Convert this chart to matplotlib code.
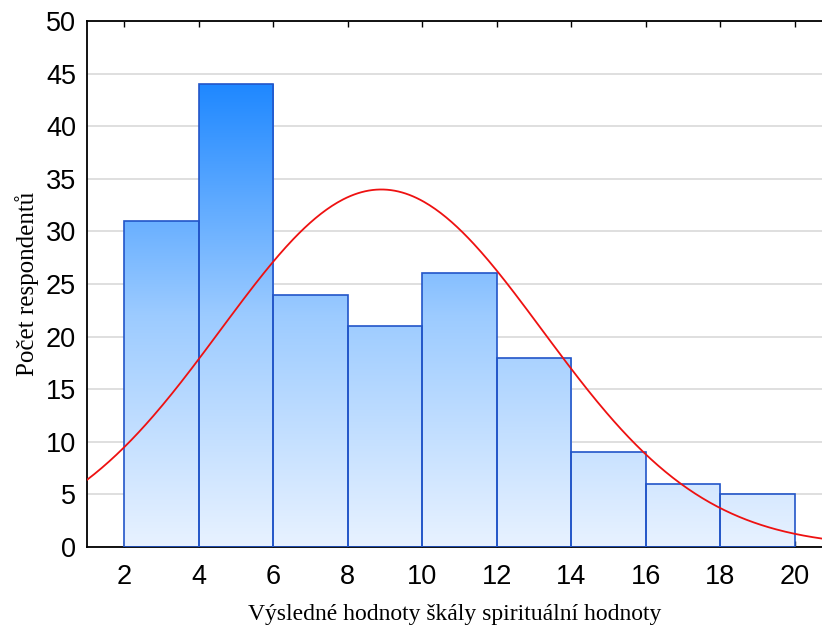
import numpy as np
import matplotlib
matplotlib.use("Agg")
import matplotlib.pyplot as plt
from matplotlib.colors import LinearSegmentedColormap

# data
bin_edges = [2, 4, 6, 8, 10, 12, 14, 16, 18, 20]
counts = [31, 44, 24, 21, 26, 18, 9, 6, 5]
fit_mean = 8.9
fit_sd = 4.32
xticks = [2, 4, 6, 8, 10, 12, 14, 16, 18, 20]
yticks = [0, 5, 10, 15, 20, 25, 30, 35, 40, 45, 50]
xlabel = "Výsledné hodnoty škály spirituální hodnoty"
ylabel = "Počet respondentů"

fig = plt.figure(figsize=(8.22, 6.28), dpi=100)
ax = fig.add_axes([87/822, 1-547/628, 1-87/822, (547-21)/628])
ax.set_xlim(1, 20.73)
ax.set_ylim(0, 50)

cmap = LinearSegmentedColormap.from_list("g", ["#e8f2ff", "#9ccbff", "#1f88ff"])
grad = np.linspace(0, 1, 256).reshape(-1, 1)

for i, c in enumerate(counts):
    x0, x1 = bin_edges[i], bin_edges[i+1]
    rect = plt.Rectangle((x0, 0), x1-x0, c, facecolor="none",
                         edgecolor="#2255c8", linewidth=1.2, zorder=3)
    ax.add_patch(rect)
    im = ax.imshow(grad, cmap=cmap, origin="lower", aspect="auto",
                   extent=(x0, x1, 0, 44), zorder=2, interpolation="bilinear",
                   vmin=0, vmax=1)
    im.set_clip_path(rect)

N = sum(counts)
bw = bin_edges[1] - bin_edges[0]
xs = np.linspace(1, 20.73, 400)
ys = N * bw * np.exp(-0.5*((xs-fit_mean)/fit_sd)**2) / (fit_sd*np.sqrt(2*np.pi))
ax.plot(xs, ys, color="#ee1111", linewidth=1.3, zorder=4)

ax.set_xlim(1, 20.73)
ax.set_ylim(0, 50)
ax.set_xticks(xticks)
ax.set_yticks(yticks)
ax.yaxis.grid(True, color="#d9d9d9", linewidth=1.2, zorder=0)
ax.set_axisbelow(True)
ax.tick_params(axis="y", length=0, labelsize=19.5, pad=8)
ax.tick_params(axis="x", direction="in", length=4, color="black", width=1,
               labelsize=19.5, pad=12, top=True)
for lab in ax.get_xticklabels() + ax.get_yticklabels():
    lab.set_fontfamily("Liberation Sans")
ax.spines["right"].set_visible(False)
for s in ["left", "bottom", "top"]:
    ax.spines[s].set_linewidth(1.3)

ax.set_xlabel(xlabel, fontfamily="Liberation Serif", fontsize=17, labelpad=10)
ax.set_ylabel(ylabel, fontfamily="Liberation Serif", fontsize=18, labelpad=5)

fig.savefig("out.png", dpi=100)
